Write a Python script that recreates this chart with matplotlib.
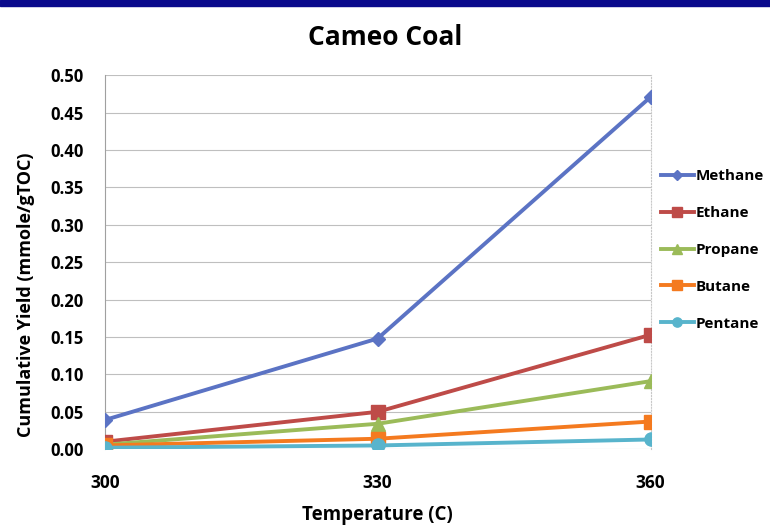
import matplotlib
matplotlib.use("Agg")
import matplotlib.pyplot as plt
from matplotlib.patches import Rectangle

temps = ["300", "330", "360"]
methane = [0.039, 0.148, 0.471]
ethane = [0.010, 0.050, 0.153]
propane = [0.006, 0.034, 0.091]
butane = [0.005, 0.014, 0.037]
pentane = [0.002, 0.005, 0.013]

series = [
    ("Methane", methane, "#5B73C4", "D", 7.5),
    ("Ethane", ethane, "#BE4B48", "s", 9.5),
    ("Propane", propane, "#9BBB59", "^", 9.5),
    ("Butane", butane, "#F47A1F", "s", 9.5),
    ("Pentane", pentane, "#58B4CC", "o", 9.5),
]

plt.rcParams['font.family'] = ['Open Sans', 'DejaVu Sans']
fig = plt.figure(figsize=(7.7, 5.26), dpi=100)
fig.patches.append(Rectangle((0, 1 - 6/526), 1, 6/526, transform=fig.transFigure,
                             color="#0A0A8C", zorder=10))
ax = fig.add_axes([0.136, 0.146, 0.709, 0.711])
x = list(range(len(temps)))
for name, vals, col, mk, ms in series:
    ax.plot(x, vals, color=col, lw=2.8, marker=mk, markersize=ms, label=name, zorder=3)

ax.set_xlim(0, 2)
ax.set_ylim(0, 0.5)
ax.set_yticks([i * 0.05 for i in range(11)])
ax.set_yticklabels([f"{i*0.05:.2f}" for i in range(11)], fontsize=12, fontweight="bold")
ax.set_xticks(x)
ax.set_xticklabels(temps, fontsize=12.5, fontweight="bold")
ax.tick_params(axis="x", length=0, pad=18)
ax.tick_params(axis="y", length=0, pad=15)
ax.grid(axis="y", color="#BFBFBF", lw=0.8)
ax.set_axisbelow(True)
for s in ["top", "bottom"]:
    ax.spines[s].set_visible(False)
ax.spines["left"].set_color("#A0A0A0")
ax.spines["right"].set_color("#C8C8C8")
ax.spines["right"].set_linestyle(":")
ax.set_xlabel("Temperature (C)", fontsize=13.5, fontweight="bold", labelpad=9)
ax.set_ylabel("Cumulative Yield (mmole/gTOC)", fontsize=13, fontweight="bold")
ax.yaxis.set_label_coords(-0.128, 0.412)
fig.text(0.5, 0.928, "Cameo Coal", ha="center", va="center", fontsize=19, fontweight="bold")

leg = ax.legend(loc="center left", bbox_to_anchor=(0.993, 0.533), frameon=False,
                prop={"size": 11, "weight": "bold"}, labelspacing=1.5,
                handlelength=2.2, markerscale=0.7, handletextpad=0.1)
fig.savefig("out.png", dpi=100)
